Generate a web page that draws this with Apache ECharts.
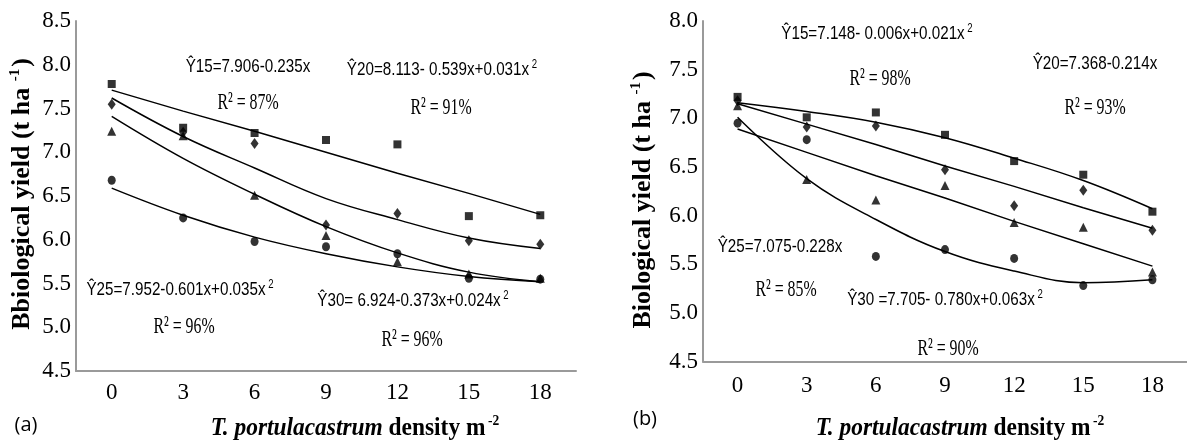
<!DOCTYPE html>
<html>
<head>
<meta charset="utf-8">
<script src="https://cdn.jsdelivr.net/npm/echarts@6/dist/echarts.min.js"></script>
<style>
html,body{margin:0;padding:0;background:#fff;}
#chart{width:1187px;height:443px;}
</style>
</head>
<body>
<div id="chart"></div>
<script>
// ---------- data ----------
const categories = ['0', '3', '6', '9', '12', '15', '18'];

// Panel (a) observed points
const aSquare   = [7.78, 7.28, 7.22, 7.14, 7.09, 6.27, 6.28];
const aDiamond  = [7.55, 7.23, 7.10, 6.17, 6.30, 5.99, 5.95];
const aTriangle = [7.24, 7.19, 6.51, 6.05, 5.75, 5.61, 5.56];
const aCircle   = [6.68, 6.25, 5.98, 5.92, 5.84, 5.56, 5.55];
// Panel (a) fitted lines
const aFit15 = [7.71, 7.47, 7.24, 7.00, 6.76, 6.53, 6.29];
const aFit20 = [7.62, 7.18, 6.82, 6.47, 6.23, 6.02, 5.90];
const aFit25 = [7.41, 6.93, 6.52, 6.15, 5.85, 5.63, 5.52];
const aFit30 = [6.59, 6.28, 6.03, 5.84, 5.69, 5.58, 5.52];

// Panel (b) observed points
const bSquare   = [7.22, 7.01, 7.06, 6.83, 6.56, 6.42, 6.04];
const bDiamond  = [7.18, 6.91, 6.92, 6.47, 6.10, 6.26, 5.85];
const bTriangle = [7.13, 6.37, 6.16, 6.31, 5.93, 5.88, 5.42];
const bCircle   = [6.95, 6.78, 5.58, 5.65, 5.56, 5.28, 5.34];
// Panel (b) fitted lines
const bFit15 = [7.16, 7.07, 6.96, 6.80, 6.59, 6.36, 6.07];
const bFit20 = [7.15, 6.94, 6.73, 6.51, 6.30, 6.08, 5.87];
const bFit25 = [6.89, 6.65, 6.41, 6.18, 5.94, 5.71, 5.48];
const bFit30 = [7.01, 6.38, 5.96, 5.63, 5.43, 5.31, 5.34];

// ---------- styles ----------
const serif = "'Liberation Serif', 'DejaVu Serif', serif";
const sans = "'Liberation Sans', Arial, sans-serif";
const axisGray = '#9a9a9a';

function xAxis(gridIndex, margin) {
  return {
    type: 'category', gridIndex, data: categories, boundaryGap: true,
    axisLine: {show: true, lineStyle: {color: axisGray, width: 2}},
    axisTick: {show: false},
    splitLine: {show: false},
    axisLabel: {color: '#000', fontFamily: serif, fontSize: 23, margin: margin}
  };
}
function yAxis(gridIndex, max) {
  return {
    type: 'value', gridIndex, min: 4.5, max: max, interval: 0.5,
    axisLine: {show: true, lineStyle: {color: axisGray, width: 2}},
    axisTick: {show: false},
    splitLine: {show: false},
    axisLabel: {color: '#000', fontFamily: serif, fontSize: 23, margin: 5,
      formatter: v => v.toFixed(1)}
  };
}
function pts(idx, data, symbol, size) {
  return {type: 'scatter', xAxisIndex: idx, yAxisIndex: idx, data, symbol,
    symbolSize: size, itemStyle: {color: '#000'}, z: 5, silent: true};
}
function fit(idx, data, smooth) {
  return {type: 'line', xAxisIndex: idx, yAxisIndex: idx, data, smooth: smooth,
    symbol: 'none', lineStyle: {color: '#000', width: 1.5}, z: 3, silent: true};
}

// text helpers
function eq(x, y, main, sup) {
  const txt = sup ? '{n|' + main + '}{s|' + sup + '}' : '{n|' + main + '}';
  return {type: 'text', x, y, scaleX: 0.8, z: 10,
    style: {text: txt, align: 'center', verticalAlign: 'middle',
      rich: {n: {fontFamily: sans, fontSize: 19, fill: '#000'},
             s: {fontFamily: sans, fontSize: 12, fill: '#000', verticalAlign: 'top', padding: [0, 0, 10, 0]}}}};
}
function r2(x, y, txt) {
  return {type: 'text', x, y, scaleX: 0.66, z: 10,
    style: {text: txt, align: 'center', verticalAlign: 'middle',
      font: '24px ' + serif, fill: '#000'}};
}
function panelLabel(x, y, txt) {
  return {type: 'text', x, y, z: 10,
    style: {text: txt, align: 'center', verticalAlign: 'middle',
      font: "20px 'Open Sans', 'Noto Sans', sans-serif", fill: '#000'}};
}
function xName(x, y) {
  return {type: 'text', x, y, scaleX: 0.9, z: 10,
    style: {text: '{i|T. portulacastrum}{b| density m}{s|-2}', align: 'center', verticalAlign: 'middle',
      rich: {i: {fontFamily: serif, fontSize: 26, fontWeight: 'bold', fontStyle: 'italic', fill: '#000'},
             b: {fontFamily: serif, fontSize: 26, fontWeight: 'bold', fill: '#000'},
             s: {fontFamily: serif, fontSize: 15, fontWeight: 'bold', fill: '#000', verticalAlign: 'top', padding: [0, 0, 14, 3]}}}};
}
function yName(x, y, main) {
  return {type: 'text', x, y, rotation: Math.PI / 2, z: 10,
    style: {text: '{b|' + main + '}{s|-1}{b|)}', align: 'center', verticalAlign: 'middle',
      rich: {b: {fontFamily: serif, fontSize: 26, fontWeight: 'bold', fill: '#000'},
             s: {fontFamily: serif, fontSize: 15, fontWeight: 'bold', fill: '#000', verticalAlign: 'top', padding: [0, 2, 14, 0]}}}};
}

const chart = echarts.init(document.getElementById('chart'), null, {renderer: 'canvas'});
chart.setOption({
  backgroundColor: '#fff',
  animation: false,
  grid: [
    {left: 76, top: 21, width: 500, height: 350},
    {left: 703, top: 21, width: 489, height: 340.5}
  ],
  xAxis: [xAxis(0, 10), xAxis(1, 13)],
  yAxis: [yAxis(0, 8.5), yAxis(1, 8.0)],
  series: [
    fit(0, aFit15, false), fit(0, aFit20, 0.4), fit(0, aFit25, 0.4), fit(0, aFit30, 0.4),
    pts(0, aSquare, 'rect', [8, 8]), pts(0, aDiamond, 'diamond', [8, 11]),
    pts(0, aTriangle, 'triangle', [9, 9]), pts(0, aCircle, 'circle', [8, 9]),
    fit(1, bFit15, 0.4), fit(1, bFit20, false), fit(1, bFit25, false), fit(1, bFit30, 0.4),
    pts(1, bSquare, 'rect', [8, 8]), pts(1, bDiamond, 'diamond', [8, 11]),
    pts(1, bTriangle, 'triangle', [9, 9]), pts(1, bCircle, 'circle', [8, 9])
  ],
  graphic: [
    eq(248, 67, 'Ŷ15=7.906-0.235x'),
    r2(248, 103, 'R² = 87%'),
    eq(442, 70, 'Ŷ20=8.113- 0.539x+0.031x', ' 2'),
    r2(441, 108, 'R² = 91%'),
    eq(180, 290, 'Ŷ25=7.952-0.601x+0.035x', ' 2'),
    r2(184, 327, 'R² = 96%'),
    eq(413, 301, 'Ŷ30= 6.924-0.373x+0.024x', ' 2'),
    r2(412, 340, 'R² = 96%'),
    eq(877, 34, 'Ŷ15=7.148- 0.006x+0.021x', ' 2'),
    r2(880, 79, 'R² = 98%'),
    eq(1095, 64, 'Ŷ20=7.368-0.214x'),
    r2(1095, 108, 'R² = 93%'),
    eq(780, 247, 'Ŷ25=7.075-0.228x'),
    r2(786, 290, 'R² = 85%'),
    eq(945, 300, 'Ŷ30 =7.705- 0.780x+0.063x', ' 2'),
    r2(948, 349, 'R² = 90%'),
    panelLabel(26, 425, '(a)'),
    panelLabel(645, 419, '(b)'),
    xName(355, 428),
    xName(960, 428),
    yName(22, 194, 'Bbiological yield (t ha '),
    yName(643, 200, 'Biological yield (t ha ')
  ]
});
</script>
</body>
</html>
